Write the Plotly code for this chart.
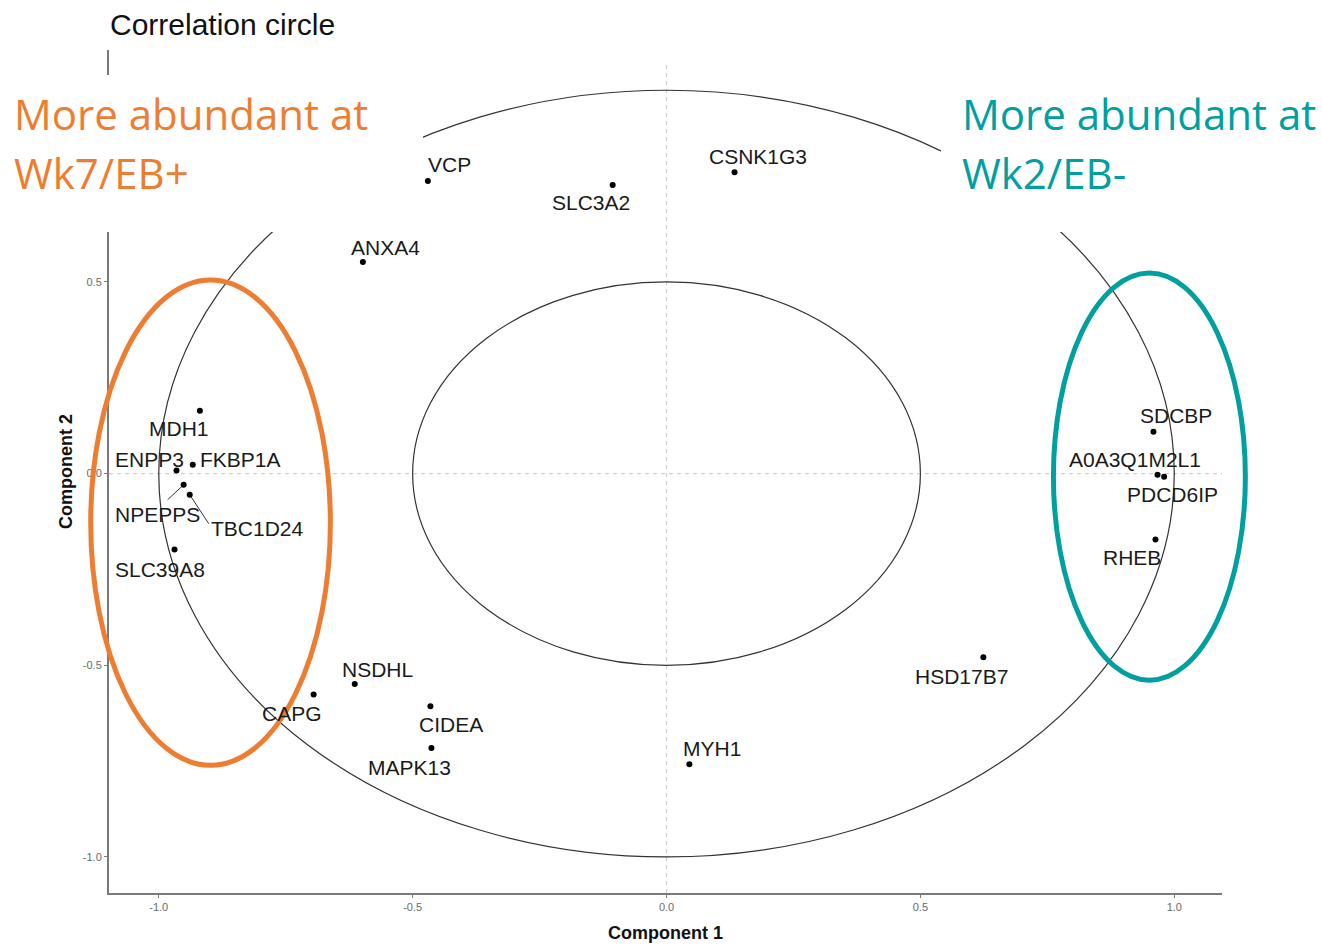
import numpy as np
import plotly.graph_objects as go

# ---- data: variable loadings on components 1 and 2 ----
genes = ["VCP", "SLC3A2", "CSNK1G3", "ANXA4", "MDH1", "FKBP1A", "ENPP3",
         "NPEPPS", "TBC1D24", "SLC39A8", "SDCBP", "A0A3Q1M2L1", "PDCD6IP",
         "RHEB", "HSD17B7", "NSDHL", "CAPG", "CIDEA", "MAPK13", "MYH1"]
comp1 = [-0.470, -0.106, 0.134, -0.598, -0.919, -0.933, -0.965,
         -0.951, -0.939, -0.969, 0.959, 0.967, 0.980,
         0.963, 0.624, -0.614, -0.695, -0.465, -0.463, 0.045]
comp2 = [0.763, 0.753, 0.786, 0.552, 0.164, 0.023, 0.008,
         -0.029, -0.055, -0.198, 0.109, -0.003, -0.008,
         -0.172, -0.479, -0.549, -0.576, -0.607, -0.716, -0.758]

x_tick_vals = [-1.0, -0.5, 0.0, 0.5, 1.0]
x_tick_text = ["-1.0", "-0.5", "0.0", "0.5", "1.0"]
y_tick_vals = [-1.0, -0.5, 0.0, 0.5]
y_tick_text = ["-1.0", "-0.5", "0.0", "0.5"]

# ---- label placement (pixel offsets of each label from its point) ----
label_offsets = {
    "VCP": (22, -17), "SLC3A2": (-22, 18), "CSNK1G3": (23, -16),
    "ANXA4": (23, -15), "MDH1": (-21, 18), "FKBP1A": (48, -5),
    "ENPP3": (-27, -11), "NPEPPS": (-26, 30), "TBC1D24": (68, 34),
    "SLC39A8": (-15, 20), "SDCBP": (23, -16), "A0A3Q1M2L1": (-23, -15),
    "PDCD6IP": (8, 18), "RHEB": (-23, 18), "HSD17B7": (-22, 19),
    "NSDHL": (23, -15), "CAPG": (-22, 19), "CIDEA": (21, 18),
    "MAPK13": (-22, 19), "MYH1": (23, -16),
}
# leader segments for displaced labels (pixel end offset from the point)
segment_ends = {"NPEPPS": (-16, 15), "TBC1D24": (19, 29)}

# ---- canvas geometry ----
W, H = 1322, 946
ML, MR, MT, MB = 109, 100, 50, 53
XR = [-1.098, 1.094]
YR = [-1.094, 1.105]


def xpaper(x):
    return (x - XR[0]) / (XR[1] - XR[0])


def ypaper(y):
    return (y - YR[0]) / (YR[1] - YR[0])


def px2paper_x(px):
    return (px - ML) / (W - ML - MR)


def px2paper_y(py):
    return (H - MB - py) / (H - MT - MB)


fig = go.Figure()

# points
fig.add_trace(go.Scatter(
    x=comp1, y=comp2, mode="markers",
    marker=dict(color="black", size=6),
    hoverinfo="text", text=genes, showlegend=False,
))

shapes = []
# dashed reference lines through the origin
shapes.append(dict(type="line", xref="x", yref="y domain", x0=0, x1=0, y0=0, y1=0.985,
                   line=dict(color="#cfcfcf", width=1.2, dash="4px,4px"), layer="below"))
shapes.append(dict(type="line", xref="x domain", yref="y", x0=0, x1=1, y0=0, y1=0,
                   line=dict(color="#cfcfcf", width=1.2, dash="4px,4px"), layer="below"))
# correlation circles (r = 1 and r = 0.5)
for r in (1.0, 0.5):
    shapes.append(dict(type="circle", xref="x", yref="y", x0=-r, x1=r, y0=-r, y1=r,
                       line=dict(color="#333333", width=1.2), layer="below"))

# leader segments
for g, x, y in zip(genes, comp1, comp2):
    if g in segment_ends:
        ex, ey = segment_ends[g]
        shapes.append(dict(type="line", xref="x", yref="y",
                           xsizemode="pixel", ysizemode="pixel",
                           xanchor=x, yanchor=y, x0=0, y0=0, x1=ex, y1=-ey,
                           line=dict(color="#333333", width=1), layer="below"))

# white panels behind the group headings
for bx0, bx1 in ((0, 423), (941, W)):
    shapes.append(dict(type="rect", xref="paper", yref="paper",
                       x0=px2paper_x(bx0), x1=px2paper_x(bx1),
                       y0=px2paper_y(232), y1=px2paper_y(75),
                       fillcolor="white", line=dict(width=0), layer="above"))

# group highlight ellipses (center x, center y, radius x, radius y, colour)
groups = [(-0.898, -0.128, 0.236, 0.633, "#EE7D31"),
          (0.951, -0.008, 0.189, 0.531, "#00A0A0")]
for cx, cy, rx, ry, col in groups:
    shapes.append(dict(type="circle", xref="paper", yref="paper",
                       x0=xpaper(cx - rx), x1=xpaper(cx + rx),
                       y0=ypaper(cy - ry), y1=ypaper(cy + ry),
                       line=dict(color=col, width=5), layer="above"))

annotations = []
for g, x, y in zip(genes, comp1, comp2):
    dx, dy = label_offsets[g]
    annotations.append(dict(
        x=x, y=y, xref="x", yref="y", text=g, showarrow=False,
        xshift=dx, yshift=-dy,
        font=dict(family="Liberation Sans, Arial, sans-serif", size=21, color="#1a1a1a"),
    ))

# headings
heading_font = "Open Sans, Noto Sans, sans-serif"
for txt, px, py, col in [
    ("More abundant at", 12, 114, "#EE7D31"),
    ("Wk7/EB+", 12, 172, "#EE7D31"),
    ("More abundant at", 960, 114, "#00A0A0"),
    ("Wk2/EB-", 960, 172, "#00A0A0"),
]:
    annotations.append(dict(
        x=px2paper_x(px), y=px2paper_y(py), xref="paper", yref="paper",
        xanchor="left", yanchor="middle", text=txt, showarrow=False,
        font=dict(family=heading_font, size=42, color=col),
    ))

annotations.append(dict(
    x=px2paper_x(108), y=px2paper_y(25), xref="paper", yref="paper",
    xanchor="left", yanchor="middle", text="Correlation circle", showarrow=False,
    font=dict(family="Liberation Sans, Arial, sans-serif", size=30, color="#111111"),
))

axis_common = dict(
    showgrid=False, zeroline=False, showline=True, automargin=False,
    linecolor="#7a7a7a", linewidth=2, ticks="outside", ticklen=3,
    tickcolor="#7a7a7a", tickwidth=1,
    tickfont=dict(family="Liberation Sans Narrow, Liberation Sans, Arial", size=11, color="#6a6a6a"),
)

fig.update_layout(
    width=W, height=H,
    margin=dict(l=ML, r=MR, t=MT, b=MB, pad=0, autoexpand=False),
    paper_bgcolor="white", plot_bgcolor="white",
    shapes=shapes, annotations=annotations,
    xaxis=dict(axis_common, range=XR, tickvals=x_tick_vals, ticktext=x_tick_text,
               title=dict(text="<b>Component 1</b>", standoff=14,
                          font=dict(family="Liberation Sans, Arial", size=18, color="#111"))),
    yaxis=dict(axis_common, range=YR, tickvals=y_tick_vals, ticktext=y_tick_text,
               title=dict(text="<b>Component 2</b>", standoff=6,
                          font=dict(family="Liberation Sans, Arial", size=18, color="#111"))),
    showlegend=False,
)

fig.write_html("out.html")
